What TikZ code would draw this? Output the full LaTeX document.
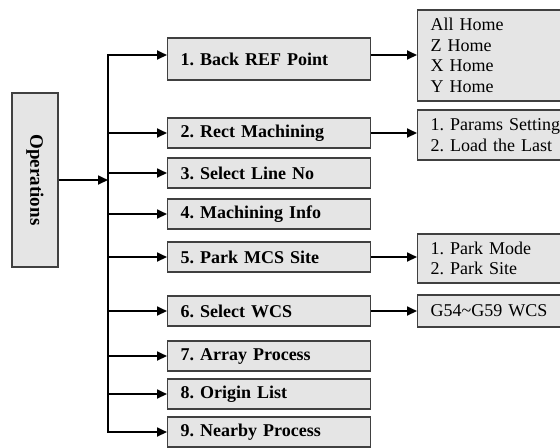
\documentclass[tikz,border=0pt]{standalone}
\usepackage{fontspec}
\setmainfont{Liberation Serif}
\usetikzlibrary{arrows.meta,positioning}
\frenchspacing

\begin{document}
\begin{tikzpicture}[x=0.5pt,y=-0.5pt,
		every node/.style={font=\fontsize{9}{10.3}\selectfont},
		box/.style={draw=black!75, line width=0.6pt, fill=black!10, anchor=west, text width=88.5pt, align=left, inner xsep=6.5pt, minimum height=15pt, font=\fontsize{9}{10.3}\selectfont\bfseries},
		sub/.style={box, text width=67pt, font=\fontsize{9}{10.3}\selectfont},
		arr/.style={-{Triangle[length=5pt,width=4.5pt]}, line width=0.9pt}]
			\useasboundingbox (0,0) rectangle (560,447);
			\clip (0,0) rectangle (560,447);
			\node[draw=black!75, line width=0.6pt, fill=black!10, rotate=-90, minimum width=87pt, minimum height=23pt, font=\fontsize{9.5}{11}\selectfont\bfseries] (ops) at (35,180) {Operations};
			\node[box, minimum height=21pt] (b1) at (167,59) {1. Back REF Point};
			\node[box] (b2) at (167,133) {2. Rect Machining};
			\node[box] (b3) at (167,173) {3. Select Line No};
			\node[box] (b4) at (167,214) {4. Machining Info};
			\node[box] (b5) at (167,257) {5. Park MCS Site};
			\node[box] (b6) at (167,311) {6. Select WCS};
			\node[box] (b7) at (167,356) {7. Array Process};
			\node[box] (b8) at (167,394) {8. Origin List};
			\node[box] (b9) at (167,432) {9. Nearby Process};
			\node[sub, minimum height=45.5pt] (s1) at (417,55.5) {All Home\\Z Home\\X Home\\Y Home};
			\node[sub, minimum height=25pt] (s2) at (417,135) {1. Params Setting\\2. Load the Last};
			\node[sub, minimum height=24.5pt] (s3) at (417,258.5) {1. Park Mode\\2. Park Site};
			\node[sub, minimum height=16pt] (s4) at (417,311) {G54\textasciitilde G59 WCS};
			\coordinate (bus) at (108,180);
			\coordinate (in1) at ([yshift=2pt]b1.west);
			\coordinate (out1) at ([yshift=2pt]b1.east);
			\draw[arr] (ops) -- (bus);
			\draw[line width=0.9pt, line cap=rect] (in1 -| bus) -- (b9.west -| bus);
			\draw[arr] (in1 -| bus) -- (in1);
			\foreach \i in {2,...,9}
				\draw[arr] (b\i.west -| bus) -- (b\i.west);
			\draw[arr] (out1) -- (out1 -| s1.west);
			\draw[arr] (b2.east) -- (b2.east -| s2.west);
			\draw[arr] (b5.east) -- (b5.east -| s3.west);
			\draw[arr] (b6.east) -- (b6.east -| s4.west);
		\end{tikzpicture}
\end{document}
